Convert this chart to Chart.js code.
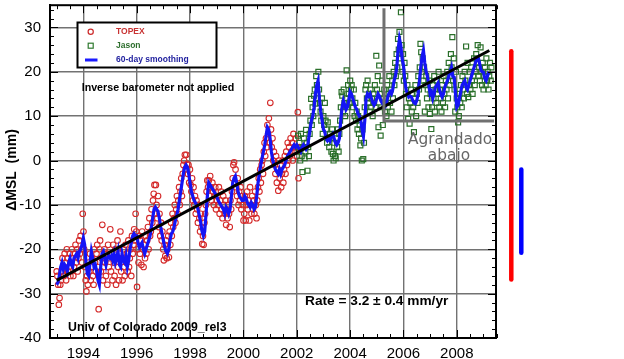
<!DOCTYPE html>
<html>
<head>
<meta charset="utf-8">
<script src="https://cdn.jsdelivr.net/npm/chart.js@4/dist/chart.umd.min.js"></script>
<style>
html,body{margin:0;padding:0;background:#fff;}
#c{display:block;}
</style>
</head>
<body>
<canvas id="c" width="624" height="359"></canvas>
<script>
// ---------------- DATA ----------------
const xTickYears = [1994, 1996, 1998, 2000, 2002, 2004, 2006, 2008];
const yTickValues = [-40, -30, -20, -10, 0, 10, 20, 30];

// 10-day altimeter cycles (years)
const cycleStep = 0.02715;
const topexStart = 1993.0;
const jasonStart = 2002.05;
const smoothStart = 1993.0;
const smoothStep = 0.05;

// TOPEX global mean sea level (mm), one value per cycle
const topexValues = [
 -25,-26,-28,-32.5,-31,-28,-27,-25,-22,-24,-26,-21,-23,-27,-20,-22,-25,-24,-21,-26,-23,-20,-22,-26,-24,-21,-19,-23,-20,-25,-22,-18,-21,-17,-20,-23,-12,
 -16,-20,-24,-27,-29.5,-26,-28,-23,-25,-21,-27,-24,-22,-26,-28,-20,-23,-25,-21,-19,-24,-33.5,-20,-18,-25,-22,-14.5,-27,-24,-20,-23,-26,-21,-28,-19,-24,-22,
 -15.5,-25,-21,-27,-19,-23,-26,-20,-28,-22,-18,-24,-27,-21,-16,-25,-22,-27,-20,-24,-26,-19,-23,-21,-25,-18,-24,-22,-20,-26,-17,-21,-19,-15.5,-18,-12,-16,
 -28.5,-20,-23,-17,-21,-18,-23.5,-16,-20,-24,-19,-22,-17,-21,-18,-15,-20,-13,-17,-16,-11,-14,-9,-7.5,-5.5,-12,-5.5,-10,-13,-8,-15,-12,-17,-14,-18,-16,-20,
 -22.5,-19,-21.5,-18,-22,-20,-17,-21.8,-16,-19,-14,-17,-12,-15,-13,-10,-14,-11,-8,-12,-9,-6,-10,-7,-4,-8,-3,-1,0,1.3,-2,1.3,-0.8,-3,-1,-5,-2,
 -5.5,-7,-4,-9,-6,-10,-8,-12,-9,-11,-14,-10,-13,-16,-12,-15,-18.8,-17,-19,-14,-12,-10,-7,-4.5,-6,-4.5,-8,-3.5,-6,-9,-5,-7,-10,-8,-6,-11,-9,
 -8,-10,-6,-12,-9,-7,-11,-13,-8,-10,-12,-9,-14.5,-11,-13,-10,-12,-15,-9,-11,-7,-4,-1,-0.4,-5,-2,-6,-8,-4,-10,-7,-9,-6,-11,-8,-10,-13.5,
 -12,-8,-13.5,-10,-7,-11,-9,-13.5,-6,-10,-12,-8,-11,-9,-12,-7,-10,-13,-9,-6,-4,-7,-2,-5,-1,0,-3,2,4,1,5,3,8,6,9.5,4,13,
 7,3,5,0,2,-1,-3,1,-5,-2,-6.8,0,-4,-1,-6,-3,0,-5,-2,1,-3,2,-1,4,0,3,1,5,2,4,0,6,3,2,5,3,1,
 10.9,-4,3
];

// Jason-1 global mean sea level (mm), one value per cycle
const jasonValues = [
 5.6,2,4,0,6,1,-2.6,3,5,0.5,2,6.9,4,-2.3,3,1,6,9,13.9,8,12,10,14.6,16,12.8,19,17,14,20,16,13,11,9,14,6,10,8,
 13,9,7,4,8.6,5,3,6,5,2,7,1.5,0,4,1,0.5,5,3,7,2,6,9,12,15.4,14.6,11,16,13,10,14,20.3,12,17,15,13,18,16,
 17,14,12,16,10,13,9,11,7,10,6,8,3.4,5,0,7,0.3,4,12,16,17,14,18,13,15,11,16,12,14,10,15,13,17,12,23.6,16,19,
 7.5,21.4,15,5.6,12,18,8,14,16,11,13,10,17,12,15,19,13,16,11,18,14,20,17,22,19,24,21,27.4,25,29,23,33.4,26,20,24,18,22,
 19,15,12,17,9.4,14,8.3,13,16,11,15,12,6.4,14,17,10,15,13,19,16,21,26.3,24.4,20,23,18,21,11,17,19,14,16,12,18,10.5,15,7.1,
 12,17,14,19,11,16,13,18,15,20,12,16,14,11,17,13,19,15,12,18,16,20,14,22,17,19,24,21,27.8,18,23,16,11,20,14,12,8.6,
 10,15,13,17,12,19,16,14,20,18,25.7,15,22,14.3,17,20,16,21,18,15,19,23,17,20,24,22,26,19,21,18,25.5,20,17,22,16,19,21,17,23,18,20,16,19,22,18,21
];

// 60-day smoothing (mm), every 0.05 yr from 1993.0
const smoothValues = [
 -28,-27.5,-26,-24,-23,-24.5,-23.5,-24,-25,-23,-22,-23.5,-24,-22,-21.5,-21,-22,-20.5,-20,-19,
 -17.5,-19,-23,-25.5,-26,-23,-20.5,-22,-24,-23.5,-25,-27,-28,-24,-21,-20.5,-22,-23.5,-22,-21.5,
 -22,-21.5,-22.5,-21,-23,-22,-20.5,-23.5,-24,-21,-22.5,-23,-21.5,-24,-22.5,-20,-18.5,-17,-16.5,-17,
 -17,-18.5,-19.5,-19,-18.5,-20,-21,-20,-19,-18,-17,-15,-13,-11,-10.5,-11,-11.5,-13,-15,-16.5,
 -18,-19.5,-20.5,-21,-20,-18,-16.5,-16,-15,-13.5,-12.5,-11,-9,-7,-5,-3,-1.5,-1,-1.5,-3,
 -5,-7,-8,-9,-9.5,-10,-11,-12.5,-14,-16,-17,-16,-12,-8,-5,-5.5,-6,-6.5,-7,-7.5,
 -8,-9,-9.5,-10,-10.5,-11,-12,-10.5,-11,-12,-11,-8,-5,-4,-3.5,-5,-7,-8,-8.5,-9,
 -9,-8,-8.5,-9.5,-10,-10.5,-9.5,-10,-11,-10.5,-8,-5,-3,-1,0.5,2,3.5,5.5,7.5,7,
 5,2,0,-1,-2,-2.5,-3,-2,-3,-2,-1.5,-1,0,1,1.5,2,2.5,3,3.5,3,
 3.5,3,2.5,2,3,3.5,3,2.5,3,5,7,9,10,12,15,17,18,14,11,9,
 7,6.5,5,4.5,5,4.5,5.5,6,5,4,3.5,4,5,9,12,13.5,12.5,11.5,12,13.5,
 15.5,15,14,13,12,11.5,10.5,10,9,7,5.5,9,14,15,14.5,15,14,13,12.5,13,
 14,15,14.5,13.5,13,13.5,12,12.5,14,15,15.5,15,16,18,19,21,25,27.4,26,23,
 21.5,18,16,15,14.3,14.5,14.3,13.5,13,12.8,13.5,15,18,21,23.5,24.8,22,20,19,17,
 15,15.5,14,15,16.5,17,17.5,16,15,14.3,15,16.5,17.3,18,19,20,21,19,18.8,15,
 12,12.5,14,15.5,17,17.5,18,16.5,16,17,18,19,20,21,22,23,23.3,22,20.5,20,
 19.9,18.5,18,19,20
];

// Linear trend (3.2 mm/yr)
const trendYears = [1993.0, 2009.22];
const trendValues = [-27.0, 24.8];

// ---------------- BUILD ----------------
const topexPts = topexValues.map((v, i) => ({x: topexStart + i * cycleStep, y: v}));
const jasonPts = jasonValues.map((v, i) => ({x: jasonStart + i * cycleStep, y: v}));
const smoothPts = smoothValues.map((v, i) => ({x: smoothStart + i * smoothStep, y: v}));
const trendPts = trendYears.map((t, i) => ({x: t, y: trendValues[i]}));

const SANS = "'Liberation Sans', Arial, Helvetica, sans-serif";

const overlay = {
  id: 'overlay',
  beforeDraw(chart) {
    const c = chart.ctx;
    c.save();
    c.fillStyle = '#fff';
    c.fillRect(0, 0, chart.width, chart.height);
    c.restore();
  },
  afterDraw(chart) {
    const c = chart.ctx, a = chart.chartArea, xs = chart.scales.x, ys = chart.scales.y;
    c.save();
    const line = (x1, y1, x2, y2) => { c.beginPath(); c.moveTo(x1, y1); c.lineTo(x2, y2); c.stroke(); };
    // frame
    c.strokeStyle = '#000'; c.lineWidth = 2;
    c.strokeRect(a.left, a.top, a.right - a.left, a.bottom - a.top);
    // ticks
    c.lineWidth = 1;
    for (let v = -40; v <= 35; v += 2) {
      const py = Math.round(ys.getPixelForValue(v)) + 0.5;
      const len = (v % 10 === 0) ? 8 : 4;
      line(a.left, py, a.left + len, py);
      line(a.right - len, py, a.right, py);
    }
    for (let t = 1993; t <= 2009.5; t += 0.5) {
      const px = Math.round(xs.getPixelForValue(t)) + 0.5;
      const len = (t % 2 === 0) ? 8 : 4;
      line(px, a.bottom, px, a.bottom - len);
      line(px, a.top, px, a.top + len);
    }
    // legend box
    c.fillStyle = '#fff';
    c.fillRect(77, 22, 140, 46);
    c.strokeStyle = '#000'; c.lineWidth = 2;
    c.strokeRect(77.5, 22.5, 139, 45);
    c.lineWidth = 1.2;
    c.strokeStyle = '#cc2a2a';
    c.beginPath(); c.arc(90.7, 31.7, 2.6, 0, Math.PI * 2); c.stroke();
    c.strokeStyle = '#2f7a2f';
    c.strokeRect(88.2, 43.2, 5, 5);
    c.strokeStyle = '#1a1aff'; c.lineWidth = 3;
    line(85, 60, 97.5, 60);
    c.font = 'bold 8.5px ' + SANS;
    c.textBaseline = 'middle'; c.textAlign = 'left';
    c.fillStyle = '#c83232'; c.fillText('TOPEX', 116, 31.5);
    c.fillStyle = '#2d6e2d'; c.fillText('Jason', 116, 45.5);
    c.fillStyle = '#2323a0'; c.fillText('60-day smoothing', 116, 60);
    // annotations
    c.fillStyle = '#000';
    c.font = 'bold 10.7px ' + SANS;
    c.textAlign = 'center';
    c.fillText('Inverse barometer not applied', 158, 88.5);
    c.font = 'bold 13.7px ' + SANS;
    c.textAlign = 'left';
    c.fillText('Rate = 3.2 \u00b1 0.4 mm/yr', 305, 301);
    c.font = 'bold 12.3px ' + SANS;
    c.fillText('Univ of Colorado 2009_rel3', 68, 327.5);
    // y axis title
    c.save();
    c.translate(12, 170);
    c.rotate(-Math.PI / 2);
    c.font = 'bold 14px ' + SANS;
    c.textAlign = 'center';
    c.fillText('\u0394MSL  (mm)', 0, 0);
    c.restore();
    // "Agrandado abajo" bracket
    c.strokeStyle = '#707070'; c.lineWidth = 3; c.lineCap = 'butt';
    const bx = xs.getPixelForValue(2005.27);
    const bTop = ys.getPixelForValue(34.3);
    const bY = ys.getPixelForValue(8.9);
    const bRight = xs.getPixelForValue(2009.4);
    c.beginPath(); c.moveTo(bx, bTop); c.lineTo(bx, bY); c.lineTo(bRight, bY); c.stroke();
    c.fillStyle = '#666';
    c.font = "15.4px 'DejaVu Sans', sans-serif";
    c.textAlign = 'center'; c.textBaseline = 'alphabetic';
    c.fillText('Agrandado', 450, 143.5);
    c.fillText('abajo', 449, 160);
    // side bars
    c.lineCap = 'round'; c.lineWidth = 4.5;
    c.strokeStyle = '#ff0000';
    line(a.right + 15.3, ys.getPixelForValue(24.6), a.right + 15.3, ys.getPixelForValue(-26.8));
    c.strokeStyle = '#0000ff';
    line(a.right + 25.3, ys.getPixelForValue(-2.0), a.right + 25.3, ys.getPixelForValue(-20.8));
    c.restore();
  }
};

new Chart(document.getElementById('c'), {
  type: 'line',
  data: {
    datasets: [
      {label: 'trend', data: trendPts, borderColor: '#000', borderWidth: 3, pointRadius: 0, order: 0},
      {label: '60-day smoothing', data: smoothPts, borderColor: '#1414f5', borderWidth: 3.2, pointRadius: 0, tension: 0, order: 1},
      {label: 'Jason', data: jasonPts, showLine: false, pointStyle: 'rect', pointRadius: 3.5, borderColor: '#2a6f2a', borderWidth: 1.2, backgroundColor: 'rgba(0,0,0,0)', order: 2},
      {label: 'TOPEX', data: topexPts, showLine: false, pointStyle: 'circle', pointRadius: 2.8, borderColor: '#d42a2a', borderWidth: 1.1, backgroundColor: 'rgba(0,0,0,0)', order: 3}
    ]
  },
  options: {
    responsive: false,
    animation: false,
    devicePixelRatio: 1,
    layout: {padding: {top: 4, right: 128, left: 0, bottom: 0}},
    plugins: {legend: {display: false}, tooltip: {enabled: false}},
    scales: {
      x: {
        type: 'linear', min: 1992.75, max: 2009.47,
        afterBuildTicks: s => { s.ticks = xTickYears.map(v => ({value: v})); },
        afterFit: s => { s.height = 21; s.paddingLeft = 0; s.paddingRight = 0; },
        ticks: {callback: v => String(v), font: {family: SANS, size: 15}, color: '#000', padding: 7, maxRotation: 0, autoSkip: false},
        grid: {color: '#727272', lineWidth: 1.4, drawTicks: false},
        border: {display: true, color: '#000', width: 2}
      },
      y: {
        min: -40, max: 35,
        afterBuildTicks: s => { s.ticks = yTickValues.map(v => ({value: v})); },
        afterFit: s => { s.width = 50; s.paddingTop = 0; s.paddingBottom = 0; },
        ticks: {callback: v => String(v), font: {family: SANS, size: 15}, color: '#000', padding: 9, autoSkip: false},
        grid: {color: '#727272', lineWidth: 1.4, drawTicks: false},
        border: {display: true, color: '#000', width: 2}
      }
    }
  },
  plugins: [overlay]
});
</script>
</body>
</html>
